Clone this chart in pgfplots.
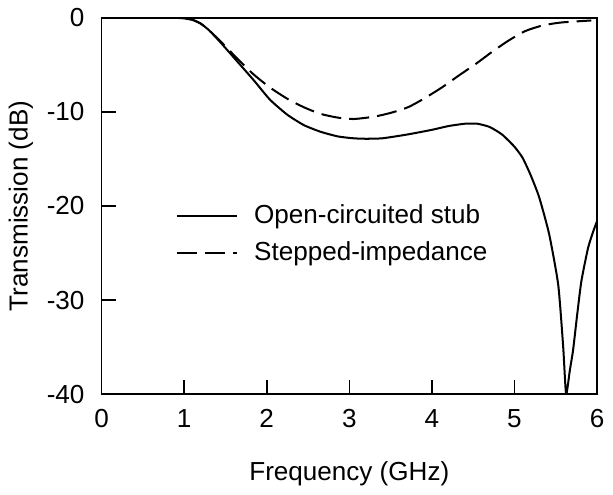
\documentclass[border=0pt]{standalone}
\usepackage{fontspec}
\setmainfont{Liberation Sans}
\usepackage{pgfplots}
\pgfplotsset{compat=1.18}

\begin{document}
\fontsize{13}{15}\selectfont
\begin{tikzpicture}
\begin{axis}[
    scale only axis,
    width=247pt,
    height=187.5pt,
    xmin=0, xmax=6,
    ymin=-40, ymax=0,
    xtick={0,1,2,3,4,5,6},
    ytick={-40,-30,-20,-10,0},
    tick align=inside,
    xtick pos=bottom,
    ytick pos=left,
    major tick length=7pt,
    axis line style={line width=0.8pt},
    tick style={line width=0.8pt, black},
    /pgf/number format/assume math mode=true,
    ticklabel style={font=\fontsize{13}{15}\selectfont},
    xticklabel style={yshift=-3pt},
    yticklabel style={xshift=-4pt},
    xlabel={Frequency (GHz)},
    ylabel={Transmission (dB)},
    label style={font=\fontsize{13}{15}\selectfont},
    xlabel style={yshift=-8pt},
    ylabel style={yshift=-2pt},
    legend style={at={(0.137,0.527)}, anchor=north west, draw=none, fill=none,
                  font=\fontsize{13}{15}\selectfont, row sep=3pt,
                  /tikz/every odd column/.append style={column sep=6pt}},
    legend cell align=left,
    legend image code/.code={\draw[#1] (0pt,0pt) -- (30pt,0pt);},
]
% Open-circuited stub
\addplot[black, line width=1pt, smooth, tension=0.35] coordinates {
(0,0) (0.5,0) (0.9,0) (1.0,-0.05) (1.1,-0.2) (1.2,-0.6) (1.3,-1.3)
(1.43,-2.5) (1.63,-4.5) (1.84,-6.6) (2.04,-8.7) (2.25,-10.3) (2.45,-11.4)
(2.65,-12.1) (2.86,-12.6) (3.05,-12.8) (3.2,-12.85) (3.4,-12.8) (3.7,-12.4)
(4.0,-11.9) (4.2,-11.5) (4.4,-11.25) (4.55,-11.25) (4.7,-11.6) (4.85,-12.4)
(5.0,-13.7) (5.1,-14.9) (5.2,-16.8) (5.3,-19.1) (5.42,-23) (5.53,-28.4)
(5.59,-35) (5.625,-40) (5.67,-37.5) (5.71,-35.3) (5.76,-31.5) (5.81,-28)
(5.89,-24.5) (5.95,-22.8) (6,-21.6)};
% Stepped-impedance
\addplot[black, line width=1pt, smooth, tension=0.4, dash pattern=on 10pt off 4pt] coordinates {
(0,0) (0.5,0) (0.9,0) (1.0,-0.05) (1.1,-0.2) (1.2,-0.6) (1.3,-1.3)
(1.43,-2.4) (1.63,-4.2) (1.84,-6.0) (2.04,-7.4) (2.25,-8.6) (2.45,-9.5)
(2.65,-10.2) (2.86,-10.6) (3.05,-10.75) (3.3,-10.5) (3.5,-10.1) (3.71,-9.5)
(3.9,-8.6) (4.12,-7.4) (4.33,-6.1) (4.53,-4.9) (4.73,-3.6) (4.93,-2.4)
(5.13,-1.4) (5.34,-0.8) (5.55,-0.5) (5.75,-0.37) (5.93,-0.27)};
\legend{Open-circuited stub, Stepped-impedance}
\end{axis}
\end{tikzpicture}
\end{document}
